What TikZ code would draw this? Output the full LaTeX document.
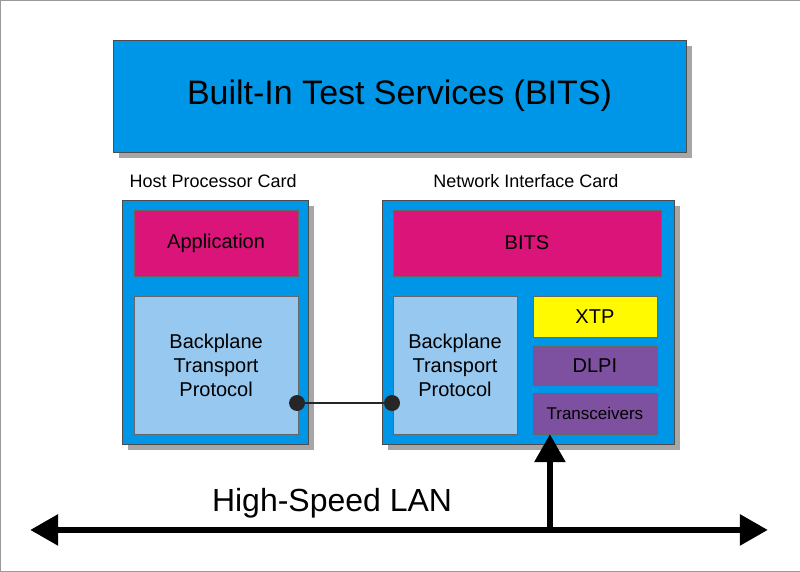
\documentclass[tikz,border=0pt]{standalone}
\usepackage{fontspec}
\setmainfont{Liberation Sans}
\usepackage{tikz}
\usetikzlibrary{arrows.meta, shadows}
\definecolor{cardblue}{RGB}{0,150,232}
\definecolor{paleblue}{RGB}{150,200,240}
\definecolor{magentabox}{RGB}{218,20,120}
\definecolor{purplebox}{RGB}{125,80,160}
\definecolor{yellowbox}{RGB}{255,250,0}
\tikzset{
	card/.style={draw=black!70, fill=cardblue, drop shadow={shadow xshift=6pt, shadow yshift=-6pt, fill=gray!70, opacity=1}},
	layer/.style={draw=black!60, align=center, font=\fontsize{20}{24}\selectfont},
	lan/.style={line width=6pt, -{Triangle[length=28pt, width=30pt]}}
}
\begin{document}
\begin{tikzpicture}[x=1pt, y=-1pt]
	\draw[black!40, fill=white](0,0) rectangle (800,571);
	% top service box
	\node[card, minimum width=573pt, minimum height=112pt, font=\fontsize{34}{40}\selectfont](bits) at (399.5,96){Built-In Test Services (BITS)};
	% cards
	\node[card, minimum width=186pt, minimum height=244pt](host) at (215,322){};
	\node[card, minimum width=292pt, minimum height=244pt](nic) at (528,322){};
	\node[font=\fontsize{18}{22}\selectfont](hostlab) at (213,181){Host Processor Card};
	\node[font=\fontsize{18}{22}\selectfont](niclab) at (526,181){Network Interface Card};
	% layers
	\node[layer, fill=magentabox, minimum width=164pt, minimum height=66pt](app) at (216,243){Application};
	\node[layer, fill=paleblue, minimum width=164pt, minimum height=138pt](bpl) at (216,365){Backplane\\Transport\\Protocol};
	\node[layer, fill=magentabox, minimum width=268pt, minimum height=66pt](nbits) at (527,243){BITS};
	\node[layer, fill=paleblue, minimum width=124pt, minimum height=138pt](bpr) at (455,365){Backplane\\Transport\\Protocol};
	\node[layer, fill=yellowbox, minimum width=124pt, minimum height=41pt](xtp) at (595,316.5){XTP};
	\node[layer, fill=purplebox, minimum width=124pt, minimum height=39pt](dlpi) at (595,365.5){DLPI};
	\node[layer, fill=purplebox, minimum width=124pt, minimum height=41pt, font=\fontsize{17}{20}\selectfont](trx) at (595,413.5){Transceivers};
	% link between backplanes
	\node[circle, fill=black!85, minimum size=16pt, inner sep=0pt](d1) at (297,403){};
	\node[circle, fill=black!85, minimum size=16pt, inner sep=0pt](d2) at (392,403){};
	\draw[line width=2pt, black!85](d1) -- (d2);
	% LAN
	\coordinate (lanl) at (30,530);
	\coordinate (lanr) at (768,530);
	\coordinate (tap) at (550,530);
	\draw[lan] (tap) -- (lanl);
	\draw[lan] (tap) -- (lanr);
	\draw[lan] (tap) -- (trx.south -| tap);
	\node[font=\fontsize{32}{38}\selectfont](lanlab) at (332,503){High-Speed LAN};
\end{tikzpicture}
\end{document}
